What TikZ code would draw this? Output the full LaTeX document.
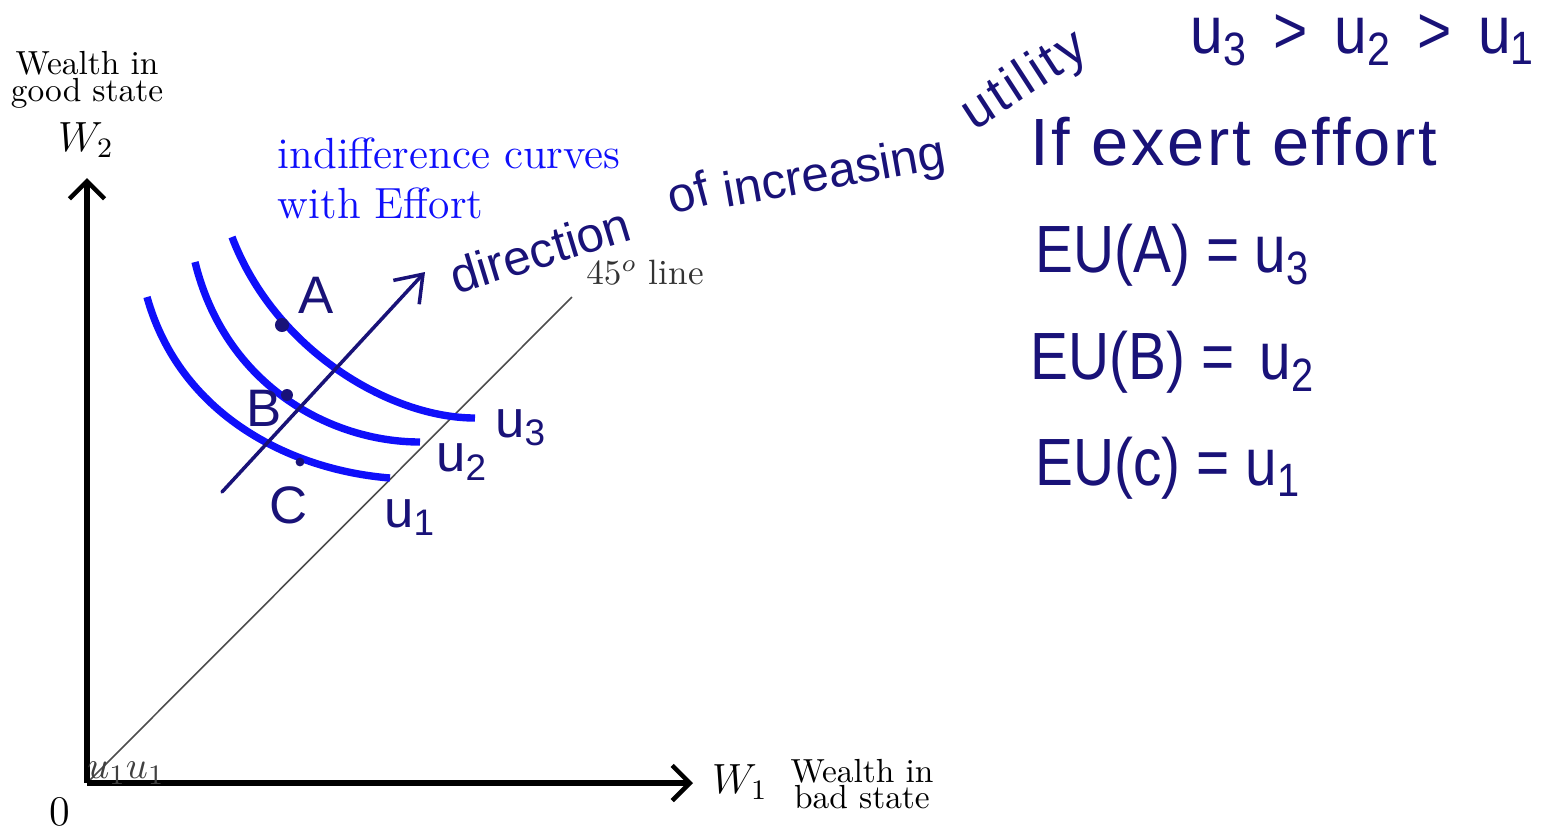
\documentclass[tikz,border=0pt]{standalone}
\usepackage{fontspec}
\newfontfamily\hand{Liberation Sans}
\usetikzlibrary{arrows.meta}
\definecolor{ink}{RGB}{25,18,120}
\definecolor{icblue}{RGB}{15,15,250}
\begin{document}
\begin{tikzpicture}[x=0.01cm,y=-0.01cm,
  axis/.style={line width=1.45pt, -{Straight Barb[length=5pt,width=10pt,line width=1.3pt]}},
  icurve/.style={icblue, line width=2.1pt},
  lbl/.style={font=\fontsize{9.5}{7.6}\selectfont, align=center, inner sep=0},
  hw/.style={text=ink, inner sep=0, font=\hand\fontsize{19}{19}\selectfont},
  hws/.style={text=ink, inner sep=0, font=\hand\fontsize{15}{15}\selectfont},
  dotp/.style={circle, fill=ink, inner sep=0}]
\useasboundingbox (0,0) rectangle (1559,829);
% axes
\coordinate (O) at (87,783);
\coordinate (Ytop) at (87,178);
\coordinate (Xend) at (693,783);
\coordinate (L45) at (572,297);
\draw[black!70, line width=0.45pt] (O) -- (L45);
\draw[axis] (O) -- (Ytop);
\draw[axis] (O) -- (Xend);
% axis labels
\node[lbl] (wg) at (87,80) {Wealth in\\good state};
\node[inner sep=0, font=\fontsize{11.8}{12}\selectfont] (w2) at (86,140) {$W_2$};
\node[inner sep=0, font=\fontsize{11.8}{12}\selectfont] (w1) at (740,782) {$W_1$};
\node[lbl] (wb) at (862,784) {Wealth in\\bad state};
\node[inner sep=0, font=\fontsize{12}{12}\selectfont] (zero) at (60,812) {0};
\node[inner sep=0, text=black!80, font=\fontsize{10}{10}\selectfont] (l45) at (645,272) {$45^o$ line};
\node[inner sep=0, text=black!75, font=\fontsize{11}{11}\selectfont] (junk) at (126,773) {$u_1u_1$};
% blue title
\node[anchor=west, inner sep=0, text=icblue, align=left, font=\fontsize{12.4}{14.2}\selectfont] (ictitle) at (277,178) {indifference curves\\with Effort};
% indifference curves
\coordinate (u1s) at (147,297); \coordinate (u1e) at (390,478);
\coordinate (u2s) at (195,262); \coordinate (u2e) at (420,442);
\coordinate (u3s) at (232,237); \coordinate (u3e) at (475,418);
\draw[icurve] (u1s) .. controls (180,415) and (290,470) .. (u1e);
\draw[icurve] (u2s) .. controls (225,385) and (330,442) .. (u2e);
\draw[icurve] (u3s) .. controls (275,350) and (390,418) .. (u3e);
% direction arrow
\coordinate (as) at (222,492);
\coordinate (ae) at (425,272);
\draw[ink, line width=1pt, line cap=round, -{Straight Barb[length=7pt,width=10pt,line width=1pt]}] (as) -- (ae);
% points
\node[dotp, minimum size=4pt] (A) at (282,325) {};
\node[dotp, minimum size=3.4pt] (B) at (287,395) {};
\node[dotp, minimum size=2.5pt] (C) at (300,462) {};
\node[hws] (Al) at (316,295) {A};
\node[hws] (Bl) at (264,408) {B};
\node[hws] (Cl) at (289,505) {C};
\node[hws] (lu3) at (521,428) {u\textsubscript{3}};
\node[hws] (lu2) at (462,462) {u\textsubscript{2}};
\node[hws] (lu1) at (410,518) {u\textsubscript{1}};
% handwritten curved text
\node[hws, font=\hand\fontsize{14}{14}\selectfont, rotate=17] (t1) at (540,250) {direction};
\node[hws, font=\hand\fontsize{14}{14}\selectfont, rotate=15] (t2) at (688,192) {of};
\node[hws, font=\hand\fontsize{14}{14}\selectfont, rotate=10] (t3) at (835,175) {increasing};
\node[hws, font=\hand\fontsize{15}{15}\addfontfeature{LetterSpace=6}\selectfont, rotate=33] (t4) at (1025,82) {utility};
% right side
\node[hw, anchor=west] (ineq) at (1190,40) {\scalebox{0.88}[1]{u\textsubscript{3} \,>\, u\textsubscript{2} \,>\, u\textsubscript{1}}};
\node[hw, anchor=west, font=\hand\fontsize{19}{19}\addfontfeature{LetterSpace=4}\selectfont] (ifx) at (1030,142) {If exert effort};
\node[hw, anchor=west] (eua) at (1035,255) {\scalebox{0.85}[1]{EU(A) = u\textsubscript{3}}};
\node[hw, anchor=west] (eub) at (1030,362) {\scalebox{0.85}[1]{EU(B) =\ \,u\textsubscript{2}}};
\node[hw, anchor=west] (euc) at (1035,468) {\scalebox{0.85}[1]{EU(c) = u\textsubscript{1}}};
\end{tikzpicture}
\end{document}
